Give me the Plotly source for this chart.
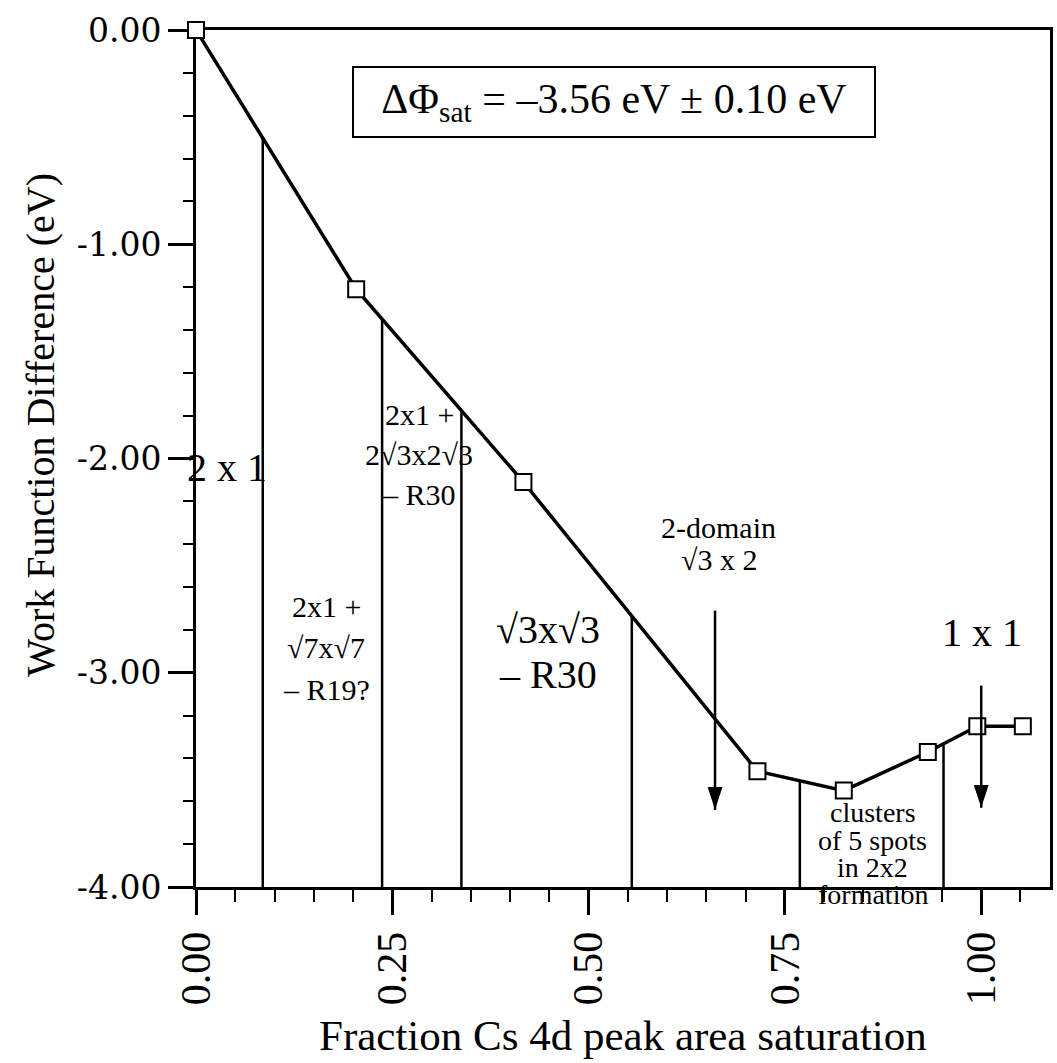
import numpy as np
import plotly.graph_objects as go

# ---- data ----
frac = [0.0, 0.204, 0.417, 0.715, 0.825, 0.932, 0.995, 1.053]
dphi = [0.0, -1.21, -2.11, -3.46, -3.55, -3.37, -3.25, -3.25]

boundaries = [0.085, 0.237, 0.338, 0.555, 0.769, 0.952]

arrow_x = [0.661, 1.000]
arrow_top = [-2.71, -3.06]
arrow_tip = [-3.64, -3.63]

x_tick_vals = [0.0, 0.25, 0.50, 0.75, 1.00]
x_tick_text = ["0.00", "0.25", "0.50", "0.75", "1.00"]
y_tick_vals = [0, -1, -2, -3, -4]
y_tick_text = ["0.00", "-1.00", "-2.00", "-3.00", "-4.00"]

# region labels: (text, x, y, size, yshift)
labels = [
    ("2 x 1", 0.039, -2.04, 40, 0),
    ("2x1 +", 0.284, -1.795, 30, 0),
    ("2\u221a3x2\u221a3", 0.284, -1.98, 30, 0),
    ("\u2013 R30", 0.284, -2.17, 30, 0),
    ("2x1 +", 0.166, -2.69, 30, 0),
    ("\u221a7x\u221a7", 0.166, -2.88, 30, 0),
    ("\u2013 R19?", 0.166, -3.08, 30, 0),
    ("\u221a3x\u221a3", 0.448, -2.80, 40, 0),
    ("\u2013 R30", 0.448, -3.01, 40, 0),
    ("2-domain", 0.666, -2.32, 30, 0),
    ("\u221a3 x 2", 0.666, -2.47, 30, 0),
    ("1 x 1", 1.001, -2.81, 40, 0),
    ("clusters", 0.862, -3.65, 28, 0),
    ("of 5 spots", 0.862, -3.785, 28, 0),
    ("in 2x2", 0.862, -3.91, 28, 0),
    ("formation", 0.862, -4.00, 28, -7),
]

FONT = "Liberation Serif"
fig = go.Figure()

# phase boundary lines from the x axis up to the curve
bx, by = [], []
for b in boundaries:
    top = float(np.interp(b, frac, dphi))
    bx += [b, b, None]
    by += [-4.0, top, None]
fig.add_trace(go.Scatter(x=bx, y=by, mode="lines",
                         line=dict(color="black", width=2.5),
                         hoverinfo="skip", showlegend=False))

# main data
fig.add_trace(go.Scatter(x=frac, y=dphi, mode="lines+markers",
                         line=dict(color="black", width=3.5),
                         marker=dict(symbol="square", size=16, color="white",
                                     line=dict(color="black", width=2)),
                         cliponaxis=False, showlegend=False))

# arrows
for xa, yt, yp in zip(arrow_x, arrow_top, arrow_tip):
    fig.add_trace(go.Scatter(x=[xa, xa], y=[yt, yp], mode="lines",
                             line=dict(color="black", width=2.5),
                             showlegend=False, hoverinfo="skip"))
fig.add_trace(go.Scatter(x=arrow_x, y=arrow_tip, mode="markers",
                         marker=dict(symbol="arrow", angle=180, size=24,
                                     color="black", line=dict(width=0)),
                         showlegend=False, hoverinfo="skip"))

for t, x, y, s, ys in labels:
    fig.add_annotation(text=t, x=x, y=y, xref="x", yref="y", showarrow=False,
                       xanchor="center", yanchor="middle", yshift=ys,
                       font=dict(family=FONT, size=s, color="black"))

fig.add_annotation(text="\u0394\u03a6<sub>sat</sub> = \u20133.56 eV \u00b1 0.10 eV",
                   xref="paper", yref="paper", x=0.489, y=0.916,
                   xanchor="center", yanchor="middle",
                   showarrow=False, width=512, height=60, borderpad=4,
                   bordercolor="black", borderwidth=2, bgcolor="white",
                   font=dict(family=FONT, size=42, color="black"))

fig.add_annotation(text="Fraction Cs 4d peak area saturation",
                   xref="paper", yref="paper", x=0.5, y=-0.173,
                   xanchor="center", yanchor="middle",
                   showarrow=False, font=dict(family=FONT, size=43, color="black"))
fig.add_annotation(text="Work Function Difference (eV)", textangle=-90,
                   xref="paper", yref="paper", x=-0.182, y=0.539,
                   xanchor="center", yanchor="middle",
                   showarrow=False, font=dict(family=FONT, size=40, color="black"))

fig.update_layout(
    width=1057, height=1063,
    margin=dict(l=196, r=4, t=30, b=176),
    paper_bgcolor="white", plot_bgcolor="white",
    xaxis=dict(range=[0, 1.0876], showgrid=False, zeroline=False,
               showline=True, linecolor="black", linewidth=3, mirror=True,
               ticks="outside", ticklen=25, tickwidth=3, tickcolor="black",
               tickvals=x_tick_vals, ticktext=x_tick_text, tickangle=-90,
               tickfont=dict(family=FONT, size=42, color="black"),
               layer="below traces",
               minor=dict(dtick=0.05, tick0=0, ticks="outside", ticklen=12,
                          tickwidth=2, tickcolor="black", showgrid=False)),
    yaxis=dict(range=[-4, 0], showgrid=False, zeroline=False,
               showline=True, linecolor="black", linewidth=3, mirror=True,
               ticks="outside", ticklen=25, tickwidth=3, tickcolor="black",
               tickvals=y_tick_vals, ticktext=y_tick_text,
               tickfont=dict(family="DejaVu Serif", size=33, color="black"),
               layer="below traces",
               minor=dict(dtick=0.2, tick0=0, ticks="outside", ticklen=10,
                          tickwidth=2, tickcolor="black", showgrid=False)),
)

fig.write_html("out.html")
